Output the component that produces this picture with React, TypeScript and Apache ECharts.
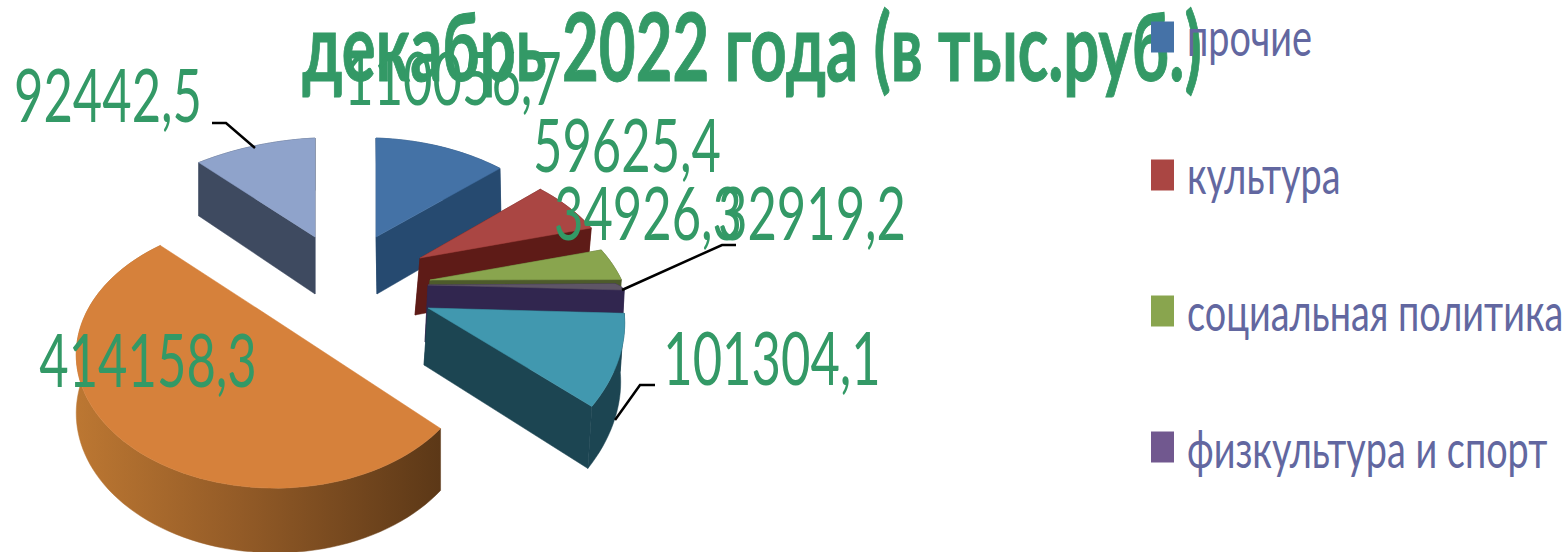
import React, { useEffect, useRef } from "react";
import * as echarts from "echarts";

const categories = ["прочие", "культура", "социальная политика", "физкультура и спорт", "образование", "здравоохранение", "общегосударственные"];
const values = [110056.7, 59625.4, 34926.3, 32919.2, 101304.1, 414158.3, 92442.5];
const valueLabels = ["110056,7", "59625,4", "34926,3", "32919,2", "101304,1", "414158,3", "92442,5"];
const legendNames = categories.slice(0, 4);
const titleText = "декабрь 2022 года (в тыс.руб.)";

const topColors = ["#4472A6", "#AA4643", "#89A54E", "#5E5566", "#4198AF", "#D6813B", "#8FA3CB"];
const wallColors = ["#264A70", "#5E1B17", "#4D5A2B", "#31264F", "#1C4552", "#000000", "#3E4A60"];
const legendColors = ["#4572A7", "#AA4643", "#89A54E", "#71588F", "#4198AF", "#DB843D", "#93A9CF"];
const GREEN = "#339966";
const LEGEND_TEXT = "#6267A0";
const FONT = "Lato,'Noto Sans',sans-serif";

// Exploded position and per-slice skew of the projection (w0, w1: degrees).
const sliceLayout = [
  { ax: 376, ay: 237, sx: 1, sy: 1, k: 0.03, wallDx: 1, w0: 0, w1: 0, cuts: true },
  { ax: 420, ay: 258, sx: 0.97, sy: 1, k: 0.03, wallDx: -5, w0: 0, w1: 0, cuts: true },
  { ax: 430, ay: 280, sx: 0.97, sy: 1, k: 0.03, wallDx: -4, w0: 0, w1: 0, cuts: true },
  { ax: 428, ay: 285, sx: 0.95, sy: 0.2, k: 0, wallDx: -3, w0: 0, w1: 0, cuts: true },
  { ax: 428, ay: 308, sx: 0.95, sy: 1.077, k: -0.112, wallDx: -4, w0: 0, w1: -9, cuts: true },
  { ax: 275, ay: 320, sx: 0.96, sy: 1.0, k: 0, wallDx: 0, w0: -9, w1: -5.6, cuts: false },
  { ax: 315, ay: 237, sx: 1.1, sy: 1, k: -0.05, wallDx: 0, w0: 0, w1: 0, cuts: true },
];
const labelLayout = [
  { x: 453, y: 77 },
  { x: 627, y: 144 },
  { x: 648, y: 212 },
  { x: 812, y: 212 },
  { x: 772, y: 357 },
  { x: 148, y: 359 },
  { x: 108, y: 94 },
];
const leaders: (number[][] | null)[] = [
  null,
  null,
  null,
  [[622, 290], [722, 245], [736, 245]],
  [[615, 420], [640, 385], [655, 385]],
  null,
  [[255, 148], [226, 123], [212, 123]],
];
const legendRows = [37, 175, 311, 447];
const legendText = [36, 174, 311, 448];

const A = 200, B = 124.6, C = 0.259, H0 = 57, HS = 22;
const RAD = Math.PI / 180;
const total = values.reduce((a, b) => a + b, 0);

function project(theta: number, r: number, l: (typeof sliceLayout)[0]) {
  const X = r * Math.sin(theta), Z = r * Math.cos(theta);
  const s = 1 / (1 + C * Z);
  const xr = l.sx * A * X * s;
  const yr = -l.sy * B * Z * s + l.k * xr;
  return { x: l.ax + xr, y: l.ay + yr, h: H0 + HS * (s - 1) };
}

function sliceRender(index: number) {
  return (_p: any, api: any) => {
    const value = api.value(0);
    const before = values.slice(0, index).reduce((a, b) => a + b, 0);
    const l = sliceLayout[index];
    const a0 = (before / total) * Math.PI * 2 + l.w0 * RAD;
    const a1 = ((before + value) / total) * Math.PI * 2 + l.w1 * RAD;
    const n = Math.max(4, Math.ceil((a1 - a0) / (Math.PI / 90)));
    const arc = [];
    for (let i = 0; i <= n; i++) arc.push(project(a0 + ((a1 - a0) * i) / n, 1, l));
    const apex = project(0, 0, l);
    const down = (p: any) => [p.x + l.wallDx, p.y + p.h];
    const up = (p: any) => [p.x, p.y];
    const wallFill: any = index === 5
      ? new echarts.graphic.LinearGradient(0, 0, 1, 0, [
          { offset: 0, color: "#BC7732" },
          { offset: 0.45, color: "#935B27" },
          { offset: 1, color: "#5C3817" },
        ])
      : wallColors[index];
    const poly = (points: number[][], fill: any) => ({
      type: "polygon",
      shape: { points },
      style: { fill, stroke: fill, lineWidth: 0.5 },
    });
    const children: any[] = [poly([...arc.map(up), ...arc.slice().reverse().map(down)], wallFill)];
    if (l.cuts) {
      children.push(poly([up(apex), up(arc[0]), down(arc[0]), down(apex)], wallFill));
      children.push(poly([up(apex), up(arc[n]), down(arc[n]), down(apex)], wallFill));
    }
    children.push(poly([up(apex), ...arc.map(up)], topColors[index]));
    return { type: "group", children };
  };
}

function labelRender(p: any, api: any) {
  const i = p.dataIndex;
  const pos = labelLayout[i];
  const children: any[] = [];
  const leader = leaders[i];
  if (leader) {
    children.push({
      type: "polyline",
      shape: { points: leader },
      style: { fill: "none", stroke: "#000000", lineWidth: 2.5 },
    });
  }
  children.push({
    type: "text",
    x: pos.x,
    y: pos.y,
    scaleX: 0.695,
    style: {
      text: valueLabels[i],
      x: 0,
      y: 0,
      fill: GREEN,
      fontFamily: FONT,
      fontSize: 73,
      align: "center",
      verticalAlign: "middle",
    },
  });
  return { type: "group", children, value: api.value(0) };
}

const drawOrder = [6, 0, 1, 2, 3, 4, 5];

export default function App() {
  const ref = useRef<HTMLDivElement>(null);
  useEffect(() => {
    const chart = echarts.init(ref.current!, null, { renderer: "svg" });
    const legendGraphics: any[] = [];
    legendNames.forEach((name, i) => {
      legendGraphics.push({
        type: "rect",
        z: 41,
        shape: { x: 1151, y: legendRows[i] - 15.5, width: 23, height: 31 },
        style: { fill: legendColors[i] },
      });
      legendGraphics.push({
        type: "text",
        x: 1187,
        y: legendText[i],
        scaleX: 0.727,
        z: 41,
        style: {
          text: name,
          x: 0,
          y: 0,
          fill: LEGEND_TEXT,
          fontFamily: FONT,
          fontSize: 52,
          align: "left",
          verticalAlign: "middle",
        },
      });
    });
    chart.setOption({
      animation: false,
      backgroundColor: "#ffffff",
      graphic: [
        {
          type: "text",
          x: 752,
          y: 45,
          scaleX: 0.675,
          z: 1,
          style: {
            text: titleText,
            x: 0,
            y: 0,
            fill: GREEN,
            stroke: GREEN,
            lineWidth: 1,
            fontFamily: FONT,
            fontWeight: "bold",
            fontSize: 94,
            align: "center",
            verticalAlign: "middle",
          },
        },
        ...legendGraphics,
      ],
      series: [
        ...drawOrder.map((idx, order) => ({
          type: "custom",
          name: categories[idx],
          coordinateSystem: "none",
          z: 5 + order,
          silent: true,
          itemStyle: { color: legendColors[idx] },
          data: [[values[idx]]],
          renderItem: sliceRender(idx),
        })),
        {
          type: "custom",
          name: "labels",
          coordinateSystem: "none",
          z: 30,
          silent: true,
          data: values.map((v) => [v]),
          renderItem: labelRender,
        },
      ],
    });
    return () => chart.dispose();
  }, []);
  return <div ref={ref} style={{ position: "absolute", left: 0, top: 0, width: 1566, height: 552 }} />;
}
